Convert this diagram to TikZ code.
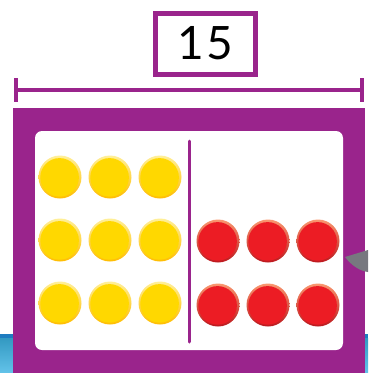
\documentclass[tikz,border=0pt]{standalone}
\usepackage{fontspec}
\setmainfont{Lato}
\usepackage{xcolor}
\usetikzlibrary{positioning, calc}

\definecolor{framepurple}{HTML}{9A248C}
\definecolor{countyellow}{HTML}{FFD800}
\definecolor{countred}{HTML}{EC1C24}
\definecolor{tabgray}{HTML}{77787F}
\definecolor{stripblue}{HTML}{3CB4E4}
\definecolor{stripline}{HTML}{1E7CC0}

\tikzset{
  yellowcounter/.style={circle, minimum size=43pt, inner sep=0pt,
    shading=axis, shading angle=45, top color=countyellow!40!white,
    bottom color=countyellow!70!orange},
  redcounter/.style={circle, minimum size=43pt, inner sep=0pt,
    shading=axis, shading angle=45, top color=countred!45!orange!60!white,
    bottom color=countred!80!black},
}

\begin{document}
\begin{tikzpicture}[x=1pt, y=-1pt]
  \useasboundingbox (0,0) rectangle (368,373);

  % Blue strip behind the frame
  \shade[top color=stripblue!85!black, bottom color=stripblue!80!white]
    (0,338) rectangle (368,373);
  \fill[stripline] (0,334) rectangle (368,338);

  % Purple frame and white ten-frame
  \fill[framepurple] (13,108) rectangle (365,373);
  \fill[white, rounded corners=7pt] (35,131) rectangle (343,350);

  % Divider
  \coordinate (divtop) at (189,141);
  \coordinate (divbot) at (189,342);
  \draw[framepurple, line width=3pt, line cap=round] (divtop) -- (divbot);

  % Yellow counters (3 x 3)
  \foreach \r in {0,1,2} {
    \foreach \c in {0,1,2} {
      \node[yellowcounter] (y\r\c) at (60+50*\c, 177+63*\r) {};
      \fill[countyellow] ($(y\r\c.center)+(-0.4,0.4)$) circle (19.3pt);
    }
  }

  % Red counters (2 x 3)
  \foreach \r in {0,1} {
    \foreach \c in {0,1,2} {
      \node[redcounter] (r\r\c) at (218+50*\c, 241+64*\r) {};
      \fill[countred] ($(r\r\c.center)+(-0.4,0.4)$) circle (19.3pt);
    }
  }

  % Gray tab at the right edge
  \fill[tabgray] (345,257) .. controls (352,266) and (360,271) .. (368,272)
    -- (368,250) -- cycle;

  % Bracket showing the total
  \coordinate (bl) at (16,90);
  \coordinate (br) at (362,90);
  \draw[framepurple, line width=4pt] (bl) -- (br);
  \draw[framepurple, line width=4pt] ($(bl)+(0,-12)$) -- ($(bl)+(0,12)$);
  \draw[framepurple, line width=4pt] ($(br)+(0,-12)$) -- ($(br)+(0,12)$);

  % Total label
  \node[draw=framepurple, line width=5pt, fill=white, minimum width=100pt,
    minimum height=61pt, inner sep=0pt, font=\fontsize{46}{46}\selectfont]
    (total) at (205.5,43.5) {1\hspace{3pt}5};
\end{tikzpicture}
\end{document}
